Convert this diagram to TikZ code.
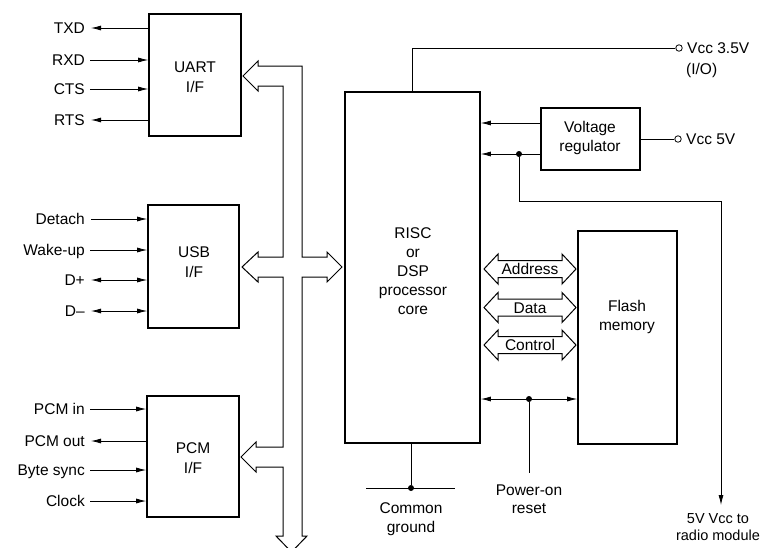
\documentclass[tikz,border=0pt]{standalone}
\usepackage{fontspec}
\setmainfont{Liberation Sans}
\usetikzlibrary{arrows.meta}
\begin{document}
\begin{tikzpicture}[x=1pt,y=-1pt,
  blk/.style={draw, line width=1.6pt, inner sep=0pt},
  wire/.style={line width=0.8pt},
  arr/.style={wire,-{Latex[length=10pt,width=5pt]}},
  darr/.style={wire,{Latex[length=10pt,width=5pt]}-{Latex[length=10pt,width=5pt]}},
  lbl/.style={font=\fontsize{15.5}{18}\selectfont, inner sep=0pt, text height=11pt, text depth=0pt},
  txt/.style={font=\fontsize{15.5}{19.5}\selectfont, align=center, inner sep=0pt},
  bus/.style={line width=1pt, line join=miter},
  dot/.style={circle, fill, inner sep=0pt, minimum size=6pt},
  term/.style={circle, draw, line width=0.8pt, inner sep=0pt, minimum size=6.5pt, fill=white}]
\useasboundingbox (0,0) rectangle (767,547);

% blocks
\node[blk, minimum width=92pt, minimum height=122pt] (uart) at (195,75) {};
\node[blk, minimum width=91pt, minimum height=123pt] (usb) at (193.5,266.5) {};
\node[blk, minimum width=92pt, minimum height=121pt] (pcm) at (193,456.5) {};
\node[blk, minimum width=135pt, minimum height=351pt] (risc) at (412.5,267.5) {};
\node[blk, minimum width=99pt, minimum height=62pt] (reg) at (590.5,139) {};
\node[blk, minimum width=99pt, minimum height=213pt] (flash) at (627.5,337.5) {};

\node[txt] (uartt) at (195,77) {UART\\I/F};
\node[txt] (usbt) at (194,262) {USB\\I/F};
\node[txt] (pcmt) at (193,458) {PCM\\I/F};
\node[txt, font=\fontsize{15.5}{19}\selectfont] (risct) at (413,271) {RISC\\or\\DSP\\processor\\core};
\node[txt] (regt) at (590,138) {Voltage\\regulator};
\node[txt] (flasht) at (627,317) {Flash\\memory};

% left signal labels
\foreach \nm/\t/\yy in {txd/TXD/28, rxd/RXD/60, cts/CTS/89, rts/RTS/120,
  det/Detach/219, wak/Wake-up/250, dp/D+/280, dm/D--/311,
  pin/PCM in/409, pout/PCM out/441, bsy/Byte sync/470, clk/Clock/501}
  \node[lbl, anchor=east] (\nm) at (85,\yy) {\t};

\draw[arr] (uart.west |- txd) -- ([xshift=6pt]txd.east);
\draw[arr] ([xshift=5pt]rxd.east) -- (uart.west |- rxd);
\draw[arr] ([xshift=5pt]cts.east) -- (uart.west |- cts);
\draw[arr] (uart.west |- rts) -- ([xshift=6pt]rts.east);

\draw[arr] ([xshift=6pt]det.east) -- (usb.west |- det);
\draw[arr] ([xshift=5pt]wak.east) -- (usb.west |- wak);
\draw[darr] ([xshift=6pt]dp.east) -- (usb.west |- dp);
\draw[darr] ([xshift=6pt]dm.east) -- (usb.west |- dm);

\draw[arr] ([xshift=5pt]pin.east) -- (pcm.west |- pin);
\draw[arr] (pcm.west |- pout) -- ([xshift=6pt]pout.east);
\draw[arr] ([xshift=5pt]bsy.east) -- (pcm.west |- bsy);
\draw[arr] ([xshift=5pt]clk.east) -- (pcm.west |- clk);

% hollow system bus
\draw[bus] (283,86) -- (258,86) -- (258,91) -- (243,76) -- (258,61) -- (258,66)
  -- (302,66) -- (302,257) -- (327,257) -- (327,252) -- (342,267) -- (327,282)
  -- (327,277) -- (302,277) -- (302,536) -- (307,536) -- (291.5,552) -- (276,536)
  -- (283,536) -- (283,467) -- (256,467) -- (256,472) -- (241,457) -- (256,442)
  -- (256,447) -- (283,447) -- (283,277) -- (258,277) -- (258,282) -- (242,267)
  -- (258,252) -- (258,257) -- (283,257) -- cycle;

% memory buses
\foreach \yy/\t/\nm in {269/Address/addr, 307.5/Data/data, 345/Control/ctrl} {
  \draw[bus] (484,\yy) -- (498,{\yy-15}) -- (498,{\yy-8.5}) -- (562,{\yy-8.5})
    -- (562,{\yy-15}) -- (576,\yy) -- (562,{\yy+15}) -- (562,{\yy+8.5})
    -- (498,{\yy+8.5}) -- (498,{\yy+15}) -- cycle;
  \node[lbl] (\nm) at (530,\yy) {\t};
}

% power
\node[term] (v35) at (679,48) {};
\node[lbl, anchor=west] (v35t) at (687,48) {Vcc 3.5V};
\node[lbl, anchor=west] (iot) at (686,69) {(I/O)};
\draw[wire] (risc.north) |- (v35.west);

\node[term] (v5) at (678,139) {};
\node[lbl, anchor=west] (v5t) at (686,139) {Vcc 5V};
\draw[wire] (reg.east) -- (v5.west);

\node[dot] (j1) at (519,154) {};
\draw[arr] ([yshift=16pt]reg.west) -- ([yshift=16pt]risc.east |- reg.west);
\draw[arr] (reg.west |- j1) -- (risc.east |- j1);
\coordinate (c1) at (721,201);
\coordinate (rtip) at (721,505);
\draw[arr] (j1) |- (c1) -- (rtip);
\node[txt, anchor=north, font=\fontsize{14.5}{17}\selectfont] (radio) at (718,513) {5V Vcc to\\radio module};

% power-on reset
\node[dot] (j2) at (529,399) {};
\draw[darr] (risc.east |- j2) -- (flash.west |- j2);
\coordinate (por) at (529,473);
\draw[wire] (j2) -- (por);
\node[txt, anchor=north, font=\fontsize{15.5}{18}\selectfont] (port) at (529,485) {Power-on\\reset};

% common ground
\node[dot] (cg) at (411,488) {};
\coordinate (cgl) at (366,488);
\coordinate (cgr) at (455,488);
\draw[wire] (risc.south -| cg) -- (cg);
\draw[wire] (cgl) -- (cgr);
\node[txt, anchor=north] (cgt) at (411,502) {Common\\ground};
\end{tikzpicture}
\end{document}
